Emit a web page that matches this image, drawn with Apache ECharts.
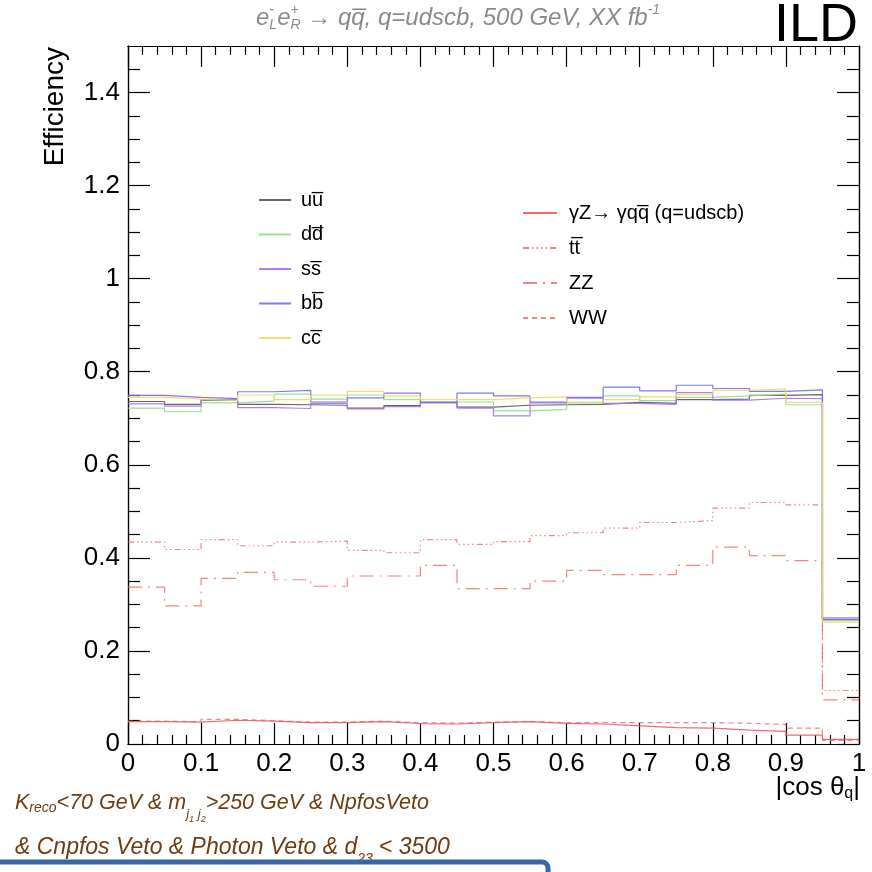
<!DOCTYPE html>
<html><head><meta charset="utf-8">
<script src="https://cdn.jsdelivr.net/npm/echarts@6/dist/echarts.min.js"></script>
<style>html,body{margin:0;padding:0;background:#fff}#c{width:872px;height:872px}</style>
</head><body><div id="c"></div>
<script>
// ---------- data ----------
const binLow = [0, 0.05, 0.1, 0.15, 0.2, 0.25, 0.3, 0.35, 0.4, 0.45, 0.5, 0.55, 0.6, 0.65, 0.7, 0.75, 0.8, 0.85, 0.9, 0.95];
const binEnd = 1.0;
const xTicks = [0, 0.1, 0.2, 0.3, 0.4, 0.5, 0.6, 0.7, 0.8, 0.9, 1];
const yTicks = [0, 0.2, 0.4, 0.6, 0.8, 1, 1.2, 1.4];

const effU = [0.736, 0.730, 0.739, 0.730, 0.729, 0.728, 0.722, 0.727, 0.734, 0.724, 0.728, 0.729, 0.730, 0.734, 0.732, 0.740, 0.741, 0.749, 0.751, 0.267];
const effD = [0.722, 0.714, 0.733, 0.737, 0.752, 0.741, 0.750, 0.740, 0.735, 0.735, 0.716, 0.719, 0.733, 0.748, 0.738, 0.745, 0.748, 0.752, 0.729, 0.265];
const effS = [0.731, 0.726, 0.740, 0.723, 0.721, 0.732, 0.720, 0.725, 0.733, 0.722, 0.705, 0.733, 0.743, 0.732, 0.730, 0.755, 0.739, 0.743, 0.742, 0.271];
const effB = [0.749, 0.745, 0.742, 0.757, 0.760, 0.735, 0.744, 0.754, 0.734, 0.754, 0.748, 0.735, 0.745, 0.767, 0.759, 0.771, 0.764, 0.758, 0.761, 0.268];
const effC = [0.745, 0.741, 0.738, 0.750, 0.740, 0.750, 0.758, 0.748, 0.740, 0.740, 0.744, 0.746, 0.735, 0.740, 0.746, 0.751, 0.760, 0.763, 0.734, 0.262];

const effGZ = [0.048, 0.047, 0.051, 0.049, 0.046, 0.046, 0.048, 0.044, 0.043, 0.046, 0.048, 0.0445, 0.043, 0.039, 0.035, 0.034, 0.030, 0.027, 0.019, 0.010];
const effTT = [0.434, 0.418, 0.439, 0.426, 0.434, 0.436, 0.416, 0.411, 0.439, 0.429, 0.435, 0.448, 0.454, 0.464, 0.476, 0.480, 0.507, 0.519, 0.514, 0.115];
const effZZ = [0.337, 0.297, 0.356, 0.369, 0.353, 0.339, 0.361, 0.361, 0.384, 0.334, 0.334, 0.350, 0.373, 0.364, 0.364, 0.384, 0.423, 0.405, 0.394, 0.095];
const effWW = [0.049, 0.048, 0.053, 0.050, 0.047, 0.047, 0.049, 0.046, 0.045, 0.047, 0.048, 0.046, 0.046, 0.046, 0.046, 0.046, 0.0445, 0.042, 0.034, 0.008];

const nU = 'uu\u0305', nD = 'dd\u0305', nS = 'ss\u0305', nB = 'bb\u0305', nC = 'cc\u0305';
const nGZ = '\u03B3Z\u2192 \u03B3qq\u0305 (q=udscb)', nTT = 'tt\u0305', nZZ = 'ZZ', nWW = 'WW';

// ---------- helpers ----------
const FONT = '"Liberation Sans", Arial, Helvetica, sans-serif';
const xMinor = []; for (let k = 1; k < 50; k++) if (k % 5) xMinor.push(+(k * 0.02).toFixed(2));
const yMinor = []; for (let k = 1; k < 30; k++) if (k % 4) yMinor.push(+(k * 0.05).toFixed(2));

function hist(vals) {
  const d = binLow.map((x, i) => [x, vals[i]]);
  d.push([binEnd, vals[vals.length - 1]]);
  return d;
}
const mctx = document.createElement('canvas').getContext('2d');
function textRun(x0, y, parts, opt) {
  const it = opt.italic ? 'italic ' : '';
  const fonts = parts.map(p => it + (p.size || opt.size) + 'px ' + FONT);
  const widths = parts.map((p, i) => { mctx.font = fonts[i]; return mctx.measureText(p.t).width + (p.gap || 0); });
  let total = 0; parts.forEach((p, i) => { if (!p.stack) total += widths[i]; });
  let x = opt.align === 'right' ? x0 - total : x0;
  return parts.map((p, i) => {
    const el = { type: 'text', x: x, y: y + (p.dy || 0), z: 10,
      style: { text: p.t, font: fonts[i], fill: opt.color, align: 'left', verticalAlign: 'middle' } };
    if (!p.stack) x += widths[i];
    return el;
  });
}

const axLine = { color: '#000', width: 1.2 };
function mkAxis(pos, max, ticks, len, labels) {
  return {
    type: 'value', position: pos, min: 0, max: max,
    splitLine: { show: false },
    axisLine: { show: true, onZero: false, lineStyle: axLine },
    axisTick: { show: true, inside: true, length: len, customValues: ticks, lineStyle: axLine },
    axisLabel: labels ? Object.assign({ show: true, customValues: ticks, fontSize: 26, color: '#000', fontFamily: FONT }, labels) : { show: false }
  };
}

const redC = '#f05a5a';
function line(name, vals, color, type, width, opacity) {
  return { name: name, type: 'line', step: 'end', symbol: 'none', showSymbol: false,
    data: hist(vals), xAxisIndex: 0, yAxisIndex: 0, clip: true,
    itemStyle: { color: color },
    lineStyle: { color: color, width: width || 1.2, type: type || 'solid', opacity: opacity == null ? 0.9 : opacity },
    emphasis: { disabled: true } };
}

const chart = echarts.init(document.getElementById('c'));
const option = {
  animation: false,
  backgroundColor: '#fff',
  grid: { left: 128, right: 13, top: 46, bottom: 128, containLabel: false },
  xAxis: [
    mkAxis('bottom', 1, xTicks, 21, { margin: 7 }),
    mkAxis('bottom', 1, xMinor, 9, null),
    mkAxis('top', 1, xTicks, 21, null),
    mkAxis('top', 1, xMinor, 9, null)
  ],
  yAxis: [
    mkAxis('left', 1.5, yTicks, 22, { margin: 8 }),
    mkAxis('left', 1.5, yMinor, 12, null),
    mkAxis('right', 1.5, yTicks, 22, null),
    mkAxis('right', 1.5, yMinor, 12, null)
  ],
  legend: [
    { data: [nU, nD, nS, nB, nC], orient: 'vertical', left: 258, top: 190, padding: 0,
      itemWidth: 32, itemHeight: 14, itemGap: 14.5, selectedMode: false,
      itemStyle: { opacity: 0 },
      textStyle: { fontFamily: FONT, fontSize: 20, lineHeight: 20, color: '#000', padding: [0, 0, 0, 5] } },
    { data: [nGZ, nTT, nZZ, nWW], orient: 'vertical', left: 522, top: 203, padding: 0,
      itemWidth: 34, itemHeight: 14, itemGap: 15, selectedMode: false,
      itemStyle: { opacity: 0 },
      textStyle: { fontFamily: FONT, fontSize: 20, lineHeight: 20, color: '#000', padding: [0, 0, 0, 7] } }
  ],
  series: [
    line(nGZ, effGZ, redC, 'solid', 1.2, 0.9),
    line(nTT, effTT, redC, [6, 3, 1.5, 3, 1.5, 3, 1.5, 3, 1.5, 3], 1.2, 0.75),
    line(nZZ, effZZ, redC, [14, 6, 2, 6], 1.2, 0.75),
    line(nWW, effWW, redC, [5, 4], 1.2, 0.75),
    line(nU, effU, '#555555'),
    line(nD, effD, '#8edc8e'),
    line(nS, effS, '#b06cf0'),
    line(nB, effB, '#6e6cf0'),
    line(nC, effC, '#f3d95c')
  ],
  graphic: [].concat(
    textRun(256, 18, [
      { t: 'e' }, { t: '-', size: 14, dy: -8, stack: true }, { t: 'L', size: 14, dy: 7 },
      { t: 'e' }, { t: '+', size: 14, dy: -8, stack: true }, { t: 'R', size: 14, dy: 7 },
      { t: ' \u2192 qq\u0305, q=udscb, 500 GeV, XX fb' }, { t: '-1', size: 14, dy: -8 }
    ], { size: 24, italic: true, color: '#8a8a8a' }),
    [{ type: 'text', x: 858, y: 26, z: 10, style: { text: 'ILD', font: '54px ' + FONT, fill: '#000', align: 'right', verticalAlign: 'middle' } },
     { type: 'text', x: 55, y: 47, rotation: Math.PI / 2, z: 10, style: { text: 'Efficiency', font: '28px ' + FONT, fill: '#000', align: 'right', verticalAlign: 'middle' } }],
    textRun(860, 788, [{ t: '|cos \u03B8' }, { t: 'q', size: 16, dy: 6 }, { t: '|' }], { size: 26, color: '#000', align: 'right' }),
    textRun(15, 803, [
      { t: 'K' }, { t: 'reco', size: 14, dy: 5 }, { t: '<70 GeV & m' },
      { t: 'j', size: 13, dy: 11 }, { t: '1', size: 9, dy: 16 }, { t: ' j', size: 13, dy: 11 }, { t: '2', size: 9, dy: 16 },
      { t: '>250 GeV & NpfosVeto' }
    ], { size: 21.5, italic: true, color: '#6e3c12' }),
    textRun(15, 848, [
      { t: '& Cnpfos Veto & Photon Veto & d' }, { t: '23', size: 14, dy: 11, gap: 6 }, { t: '< 3500' }
    ], { size: 23, italic: true, color: '#6e3c12' }),
    [{ type: 'rect', z: 20, shape: { x: -10, y: 862, width: 558, height: 40, r: 6 },
       style: { fill: '#fff', stroke: '#3a66a6', lineWidth: 5 } }]
  )
};
chart.setOption(option);
</script>
</body></html>
